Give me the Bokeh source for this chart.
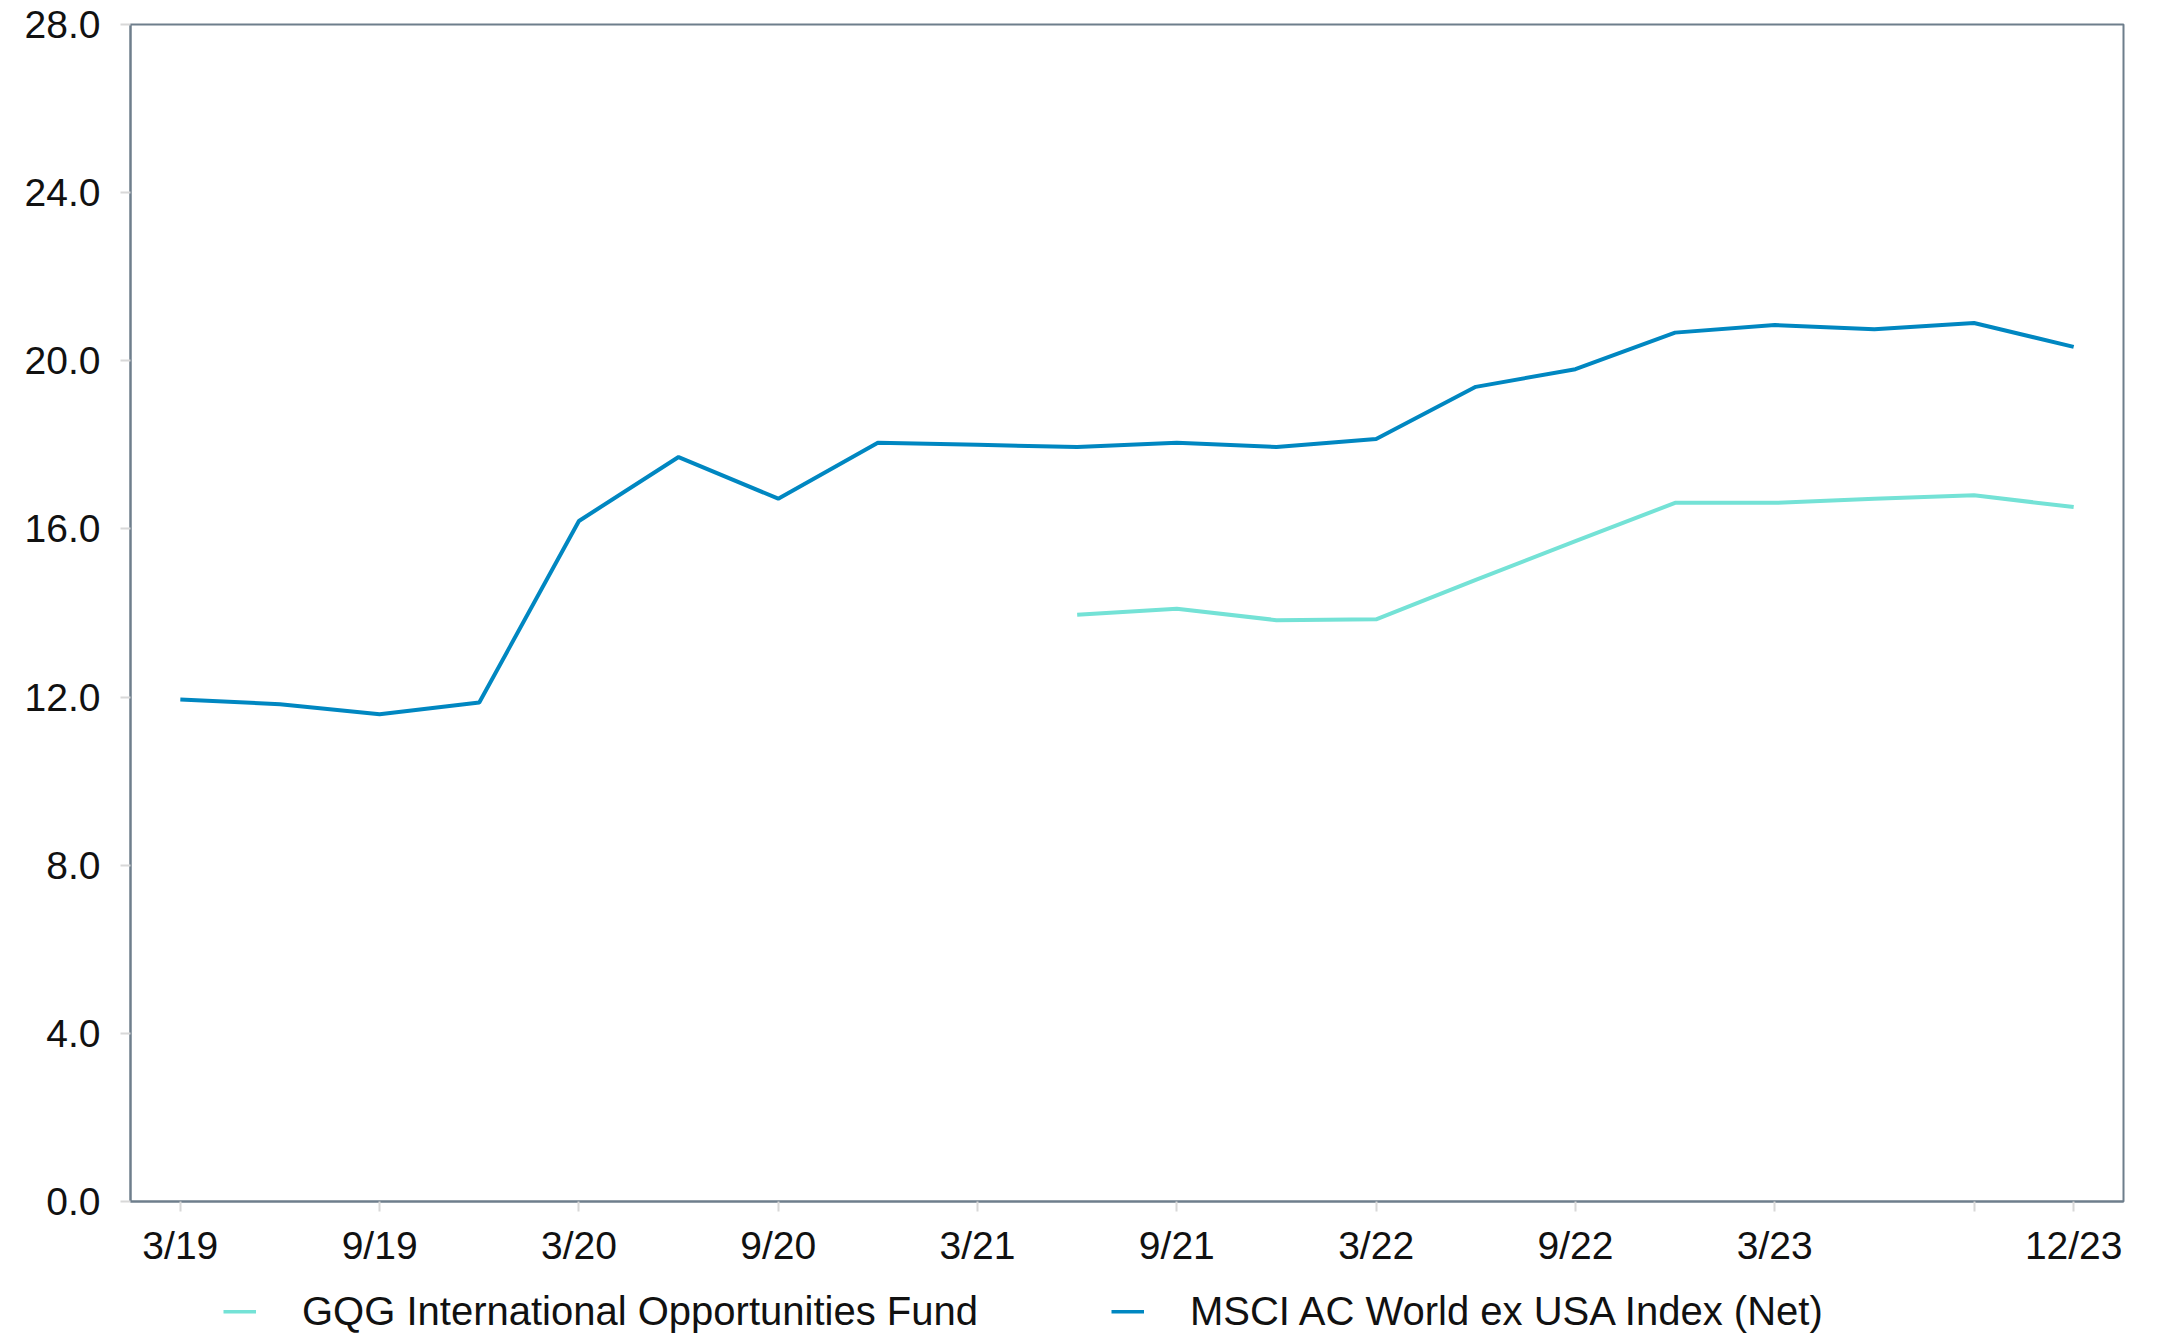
from bokeh.plotting import figure
from bokeh.models import Legend, LegendItem, FixedTicker, Range1d
from bokeh.layouts import column
from bokeh.embed import file_html
from bokeh.resources import INLINE

quarters = ["3/19", "6/19", "9/19", "12/19", "3/20", "6/20", "9/20", "12/20",
            "3/21", "6/21", "9/21", "12/21", "3/22", "6/22", "9/22", "12/22",
            "3/23", "6/23", "9/23", "12/23"]
msci = [11.94, 11.83, 11.59, 11.87, 16.19, 17.71, 16.72, 18.05,
        18.00, 17.95, 18.05, 17.95, 18.14, 19.38, 19.80, 20.67,
        20.85, 20.75, 20.90, 20.33]
gqg_quarters = quarters[9:]
gqg = [13.96, 14.10, 13.83, 13.85, 14.79, 15.71, 16.62, 16.62, 16.72, 16.80, 16.52]
tick_labels = {0: "3/19", 2: "9/19", 4: "3/20", 6: "9/20", 8: "3/21", 10: "9/21",
               12: "3/22", 14: "9/22", 16: "3/23", 18: "", 19: "12/23"}
y_ticks = [0, 4, 8, 12, 16, 20, 24, 28]
series_names = ["GQG International Opportunities Fund", "MSCI AC World ex USA Index (Net)"]

FONT = "Liberation Sans"
BLUE = "#0087c1"
TEAL = "#74e2d6"
FRAME = "#6e7e8c"

x_msci = [quarters.index(q) for q in quarters]
x_gqg = [quarters.index(q) for q in gqg_quarters]

p = figure(width=2163, height=1284, output_backend="svg", toolbar_location=None,
           x_range=Range1d(-0.5, len(quarters) - 0.5), y_range=Range1d(0, 28))
p.min_border_left = 130
p.min_border_right = 40
p.min_border_top = 24
p.min_border_bottom = 83
p.background_fill_color = "white"
p.border_fill_color = "white"
p.outline_line_color = FRAME
p.outline_line_width = 2
p.xgrid.visible = False
p.ygrid.visible = False

p.line(x_gqg, gqg, line_color=TEAL, line_width=4)
p.line(x_msci, msci, line_color=BLUE, line_width=4)

xa = p.xaxis[0]
xa.ticker = FixedTicker(ticks=list(tick_labels.keys()))
xa.major_label_overrides = {k: v for k, v in tick_labels.items()}
xa.axis_line_color = FRAME
xa.axis_line_width = 2
xa.major_tick_line_color = "#d8d8d8"
xa.major_tick_line_width = 2
xa.major_tick_out = 10
xa.major_tick_in = 0
xa.minor_tick_line_color = None
xa.major_label_standoff = 12
xa.major_label_text_font = FONT
xa.major_label_text_font_size = "39px"
xa.major_label_text_color = "#111111"

ya = p.yaxis[0]
ya.ticker = FixedTicker(ticks=y_ticks)
ya.major_label_overrides = {t: f"{t:.1f}" for t in y_ticks}
ya.axis_line_color = FRAME
ya.axis_line_width = 2
ya.major_tick_line_color = "#d8d8d8"
ya.major_tick_line_width = 2
ya.major_tick_out = 10
ya.major_tick_in = 0
ya.minor_tick_line_color = None
ya.major_label_standoff = 20
ya.major_label_text_font = FONT
ya.major_label_text_font_size = "39px"
ya.major_label_text_color = "#111111"

# legend strip below the chart (its frame is aligned with the chart frame)
lf = figure(width=2163, height=54, output_backend="svg", toolbar_location=None,
            x_axis_type=None, y_axis_type=None,
            x_range=Range1d(0, 1), y_range=Range1d(0, 1))
lf.min_border = 0
lf.min_border_left = 0
lf.min_border_right = 0
lf.min_border_top = 0
lf.min_border_bottom = 0
lf.outline_line_color = None
lf.xgrid.visible = False
lf.ygrid.visible = False
lf.background_fill_color = "white"
lf.border_fill_color = "white"
# proxy renderers kept outside the visible range: only their legend swatches show
d_gqg = lf.line([5, 6], [5, 6], line_color=TEAL, line_width=4)
d_msci = lf.line([5, 6], [5, 6], line_color=BLUE, line_width=4)

legend = Legend(items=[LegendItem(label=series_names[0], renderers=[d_gqg]),
                       LegendItem(label=series_names[1], renderers=[d_msci])],
                location="center_left", orientation="horizontal")
legend.padding = 0
legend.margin = 93
legend.border_line_color = None
legend.background_fill_alpha = 0
legend.glyph_width = 33
legend.glyph_height = 4
legend.label_standoff = 46
legend.spacing = 133
legend.label_text_font = FONT
legend.label_text_font_size = "40px"
legend.label_text_color = "#111111"
lf.add_layout(legend, "center")

layout = column(p, lf, spacing=0)
open("out.html", "w").write(file_html(layout, INLINE))
